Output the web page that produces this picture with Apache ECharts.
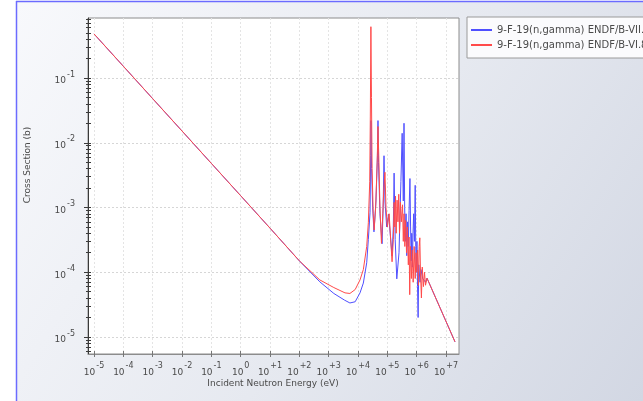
<!DOCTYPE html>
<html>
<head>
<meta charset="utf-8">
<title>F-19 (n,gamma) cross section</title>
<script src="https://cdn.jsdelivr.net/npm/echarts@6/dist/echarts.min.js"></script>
<style>
  html, body { margin: 0; padding: 0; background: #ffffff; }
  #chart { width: 643px; height: 401px; }
</style>
</head>
<body>
<div id="chart"></div>
<script>
// Incident neutron energies (eV) and capture cross sections (b), ENDF/B-VII.0
const energyVII = [
  1e-5, 1e-4, 1e-3, 1e-2, 1e-1, 1, 10, 100,
  500, 1500, 3500, 5300, 8000, 11700, 15200, 19800, 22500, 25700,
  27000, 27700, 29000, 31600, 35000, 41000, 46000, 48000, 50000, 56000,
  66000, 72000, 77000, 83000, 95000, 1.1e5, 1.25e5, 1.45e5, 1.6e5, 1.7e5,
  1.85e5, 2.1e5, 2.5e5, 2.9e5, 3.2e5, 3.5e5, 3.7e5, 3.9e5, 4.1e5, 4.35e5,
  4.6e5, 4.9e5, 5.2e5, 5.5e5, 5.9e5, 6.2e5, 6.5e5, 6.8e5, 7.1e5, 7.5e5,
  7.9e5, 8.4e5, 8.9e5, 9.3e5, 9.7e5, 1.02e6, 1.07e6, 1.12e6, 1.18e6, 1.3e6,
  1.4e6, 1.6e6, 2.0e6, 2.25e6, 2.03e7
];
const xsVII = [
  0.48, 0.152, 0.048, 0.0152, 0.0048, 0.00152, 4.8e-4, 1.5e-4,
  7.1e-5, 4.7e-5, 3.7e-5, 3.35e-5, 3.5e-5, 4.8e-5, 6.8e-5, 1.4e-4, 3.2e-4, 8.3e-4,
  6.3e-3, 0.022, 4e-3, 1e-3, 4.2e-4, 1.26e-3, 6.3e-3, 0.022, 5e-3, 8e-4,
  2.75e-4, 1e-3, 6.3e-3, 1.26e-3, 5e-4, 7.9e-4, 4e-4, 1.78e-4, 5e-4, 3.4e-3,
  3.2e-4, 7.9e-5, 2e-4, 2.5e-3, 0.014, 1.26e-3, 0.02, 1e-3, 3e-4, 8e-4,
  1.8e-4, 6e-4, 2.5e-4, 9e-4, 2.8e-3, 5e-4, 1.5e-4, 4e-4, 1.2e-4, 4e-4,
  8e-4, 3e-4, 2.2e-3, 2.5e-4, 1e-4, 3e-4, 6e-5, 2e-5, 1.3e-4, 7e-5,
  1.1e-4, 8e-5, 7e-5, 8.1e-5, 8.4e-6
];

// Incident neutron energies (eV) and capture cross sections (b), ENDF/B-VI.8
const energyVI8 = [
  1e-5, 1e-4, 1e-3, 1e-2, 1e-1, 1, 10, 100,
  500, 1500, 3600, 5300, 8000, 11700, 15200, 19800, 22500, 25100,
  26300, 27500, 28800, 30200, 33000, 35500, 40000, 45000, 48000, 51000,
  56000, 63000, 70000, 76000, 83000, 90000, 1.0e5, 1.15e5, 1.3e5, 1.45e5,
  1.6e5, 1.7e5, 1.8e5, 1.9e5, 2.0e5, 2.15e5, 2.3e5, 2.45e5, 2.6e5, 2.8e5,
  3.0e5, 3.3e5, 3.5e5, 3.7e5, 3.95e5, 4.2e5, 4.5e5, 4.8e5, 5.2e5, 5.5e5,
  5.8e5, 6.1e5, 6.6e5, 7.1e5, 7.6e5, 8.2e5, 8.9e5, 9.5e5, 1.0e6, 1.08e6,
  1.15e6, 1.22e6, 1.28e6, 1.35e6, 1.45e6, 1.55e6, 1.7e6, 1.85e6, 2.0e6, 2.25e6,
  2.03e7
];
const xsVI8 = [
  0.48, 0.152, 0.048, 0.0152, 0.0048, 0.00152, 4.8e-4, 1.5e-4,
  7.6e-5, 5.8e-5, 4.8e-5, 4.7e-5, 5.4e-5, 7.6e-5, 1.1e-4, 2.5e-4, 5.8e-4, 2.5e-3,
  0.025, 0.62, 0.05, 4e-3, 8e-4, 4.5e-4, 1e-3, 5e-3, 0.0178, 6.3e-3,
  1e-3, 2.8e-4, 8e-4, 2e-3, 3.5e-3, 1e-3, 5e-4, 8e-4, 3.2e-4, 1.45e-4,
  3.2e-4, 1.2e-3, 5e-4, 1.5e-3, 4e-4, 1.3e-3, 6e-4, 1.6e-3, 4e-4, 1.2e-3,
  6e-4, 1.1e-3, 3e-4, 8e-4, 2.5e-4, 6.3e-4, 2e-4, 5e-4, 1.3e-4, 3.5e-4,
  4.5e-5, 2.5e-4, 8e-5, 2.2e-4, 7e-5, 2.5e-4, 8e-5, 2e-4, 1e-4, 2.2e-4,
  6.3e-5, 2.5e-4, 3.4e-4, 1e-4, 4e-5, 1.2e-4, 6e-5, 1e-4, 6.3e-5, 8.1e-5,
  8.4e-6
];

// Decade exponents shown on each axis
const xDecades = [-5, -4, -3, -2, -1, 0, 1, 2, 3, 4, 5, 6, 7];
const yDecades = [-5, -4, -3, -2, -1];

const seriesNames = [
  '9-F-19(n,gamma) ENDF/B-VII.0',
  '9-F-19(n,gamma) ENDF/B-VI.8'
];

// Axis ranges in log10 units
const X_MIN = -5.205, X_MAX = 7.443;
const Y_MIN = -5.263, Y_MAX = -0.073;

// Minor ticks at 2..9 of each decade
const yMinor = [];
for (let n = -6; n <= 0; n++) {
  for (let k = 2; k <= 9; k++) {
    const v = n + Math.log10(k);
    if (v > Y_MIN && v < Y_MAX) yMinor.push(v);
  }
}

const toLog = (es, xs) => es.map((e, i) => [Math.log10(e), Math.log10(xs[i])]);

const FONT = 'DejaVu Sans';
const powLabel = (signed) => (v) => {
  const n = Math.round(v);
  const e = (signed && n > 0) ? '+' + n : String(n);
  return '{b|10}{s|' + e + '}';
};
const powRich = {
  b: { fontFamily: FONT, fontSize: 9, color: '#4a4a4a', lineHeight: 15, verticalAlign: 'bottom' },
  s: { fontFamily: FONT, fontSize: 8, color: '#4a4a4a', lineHeight: 15, verticalAlign: 'top', padding: [0, 0, 0, 1] }
};

const GRID = { left: 88, top: 18, right: 184, bottom: 47 };

const chart = echarts.init(document.getElementById('chart'), null, { renderer: 'canvas' });

chart.setOption({
  animation: false,
  backgroundColor: '#ffffff',
  graphic: [
    {
      type: 'rect', z: -10, silent: true,
      shape: { x: 16, y: 1, width: 627, height: 400 },
      style: {
        fill: new echarts.graphic.LinearGradient(0, 0, 1, 1, [
          { offset: 0, color: '#f8f9fc' },
          { offset: 0.55, color: '#e6e9f0' },
          { offset: 1, color: '#d2d7e3' }
        ]),
        stroke: null
      }
    },
    { type: 'line', z: -9, silent: true, shape: { x1: 16, y1: 1.5, x2: 643, y2: 1.5 }, style: { stroke: '#6b6bff', lineWidth: 1.5 } },
    { type: 'line', z: -9, silent: true, shape: { x1: 16.5, y1: 1, x2: 16.5, y2: 401 }, style: { stroke: '#6b6bff', lineWidth: 1.5 } },
    {
      type: 'text', silent: true, x: 28, y: 165, rotation: Math.PI / 2,
      style: { text: 'Cross Section (b)', fontFamily: FONT, fontSize: 9, fill: '#4a4a4a', align: 'center', verticalAlign: 'middle' }
    },
    {
      type: 'text', silent: true, x: 273, y: 384,
      style: { text: 'Incident Neutron Energy (eV)', fontFamily: FONT, fontSize: 9, fill: '#4a4a4a', align: 'center', verticalAlign: 'middle' }
    }
  ],
  legend: {
    orient: 'vertical',
    left: 467, top: 17,
    padding: [8, 200, 8, 4],
    itemGap: 5,
    itemWidth: 21, itemHeight: 2,
    icon: 'rect',
    backgroundColor: '#fbfbfd',
    borderColor: '#9a9a9a', borderWidth: 1,
    textStyle: { fontFamily: FONT, fontSize: 10, color: '#4a4a4a' },
    data: seriesNames
  },
  grid: Object.assign({ show: true, backgroundColor: '#ffffff', borderColor: '#8c8c8c', borderWidth: 1 }, GRID),
  xAxis: [
    {
      type: 'value', min: X_MIN, max: X_MAX,
      axisLine: { show: true, onZero: false, lineStyle: { color: '#8c8c8c', width: 1 } },
      axisTick: { show: true, length: 3, customValues: xDecades, lineStyle: { color: '#777' } },
      axisLabel: { show: true, customValues: xDecades, margin: 8, formatter: powLabel(true), rich: powRich },
      splitLine: { show: true, lineStyle: { color: '#e4e4e4', type: [2, 2], width: 1 } }
    },
    {
      type: 'value', min: X_MIN, max: X_MAX, position: 'bottom',
      axisLine: { show: false, onZero: false },
      axisTick: { show: true, inside: true, length: 3, customValues: xDecades, lineStyle: { color: '#777' } },
      axisLabel: { show: false },
      splitLine: { show: false }
    }
  ],
  yAxis: [
    {
      type: 'value', min: Y_MIN, max: Y_MAX,
      axisLine: { show: true, onZero: false, lineStyle: { color: '#3a3a3a', width: 1 } },
      axisTick: { show: true, length: 4, customValues: yDecades, lineStyle: { color: '#3a3a3a' } },
      axisLabel: { show: true, customValues: yDecades, margin: 13, formatter: powLabel(false), rich: powRich },
      splitLine: { show: true, lineStyle: { color: '#d6d6d6', type: [2, 2], width: 1 } }
    },
    {
      type: 'value', min: Y_MIN, max: Y_MAX, position: 'left',
      axisLine: { show: false, onZero: false },
      axisTick: { show: true, inside: true, length: 3, customValues: yDecades.concat(yMinor), lineStyle: { color: '#3a3a3a' } },
      axisLabel: { show: false },
      splitLine: { show: false }
    },
    {
      type: 'value', min: Y_MIN, max: Y_MAX, position: 'left',
      axisLine: { show: false, onZero: false },
      axisTick: { show: true, length: 2, customValues: yMinor, lineStyle: { color: '#3a3a3a' } },
      axisLabel: { show: false },
      splitLine: { show: false }
    }
  ],
  series: [
    {
      name: seriesNames[0], type: 'line', xAxisIndex: 0, yAxisIndex: 0,
      data: toLog(energyVII, xsVII),
      showSymbol: false, symbol: 'none',
      lineStyle: { color: '#4f4fff', width: 1 }, itemStyle: { color: '#4f4fff' },
      z: 2
    },
    {
      name: seriesNames[1], type: 'line', xAxisIndex: 0, yAxisIndex: 0,
      data: toLog(energyVI8, xsVI8),
      showSymbol: false, symbol: 'none',
      lineStyle: { color: '#ff4a4a', width: 1 }, itemStyle: { color: '#ff4a4a' },
      z: 3
    }
  ]
});
</script>
</body>
</html>
